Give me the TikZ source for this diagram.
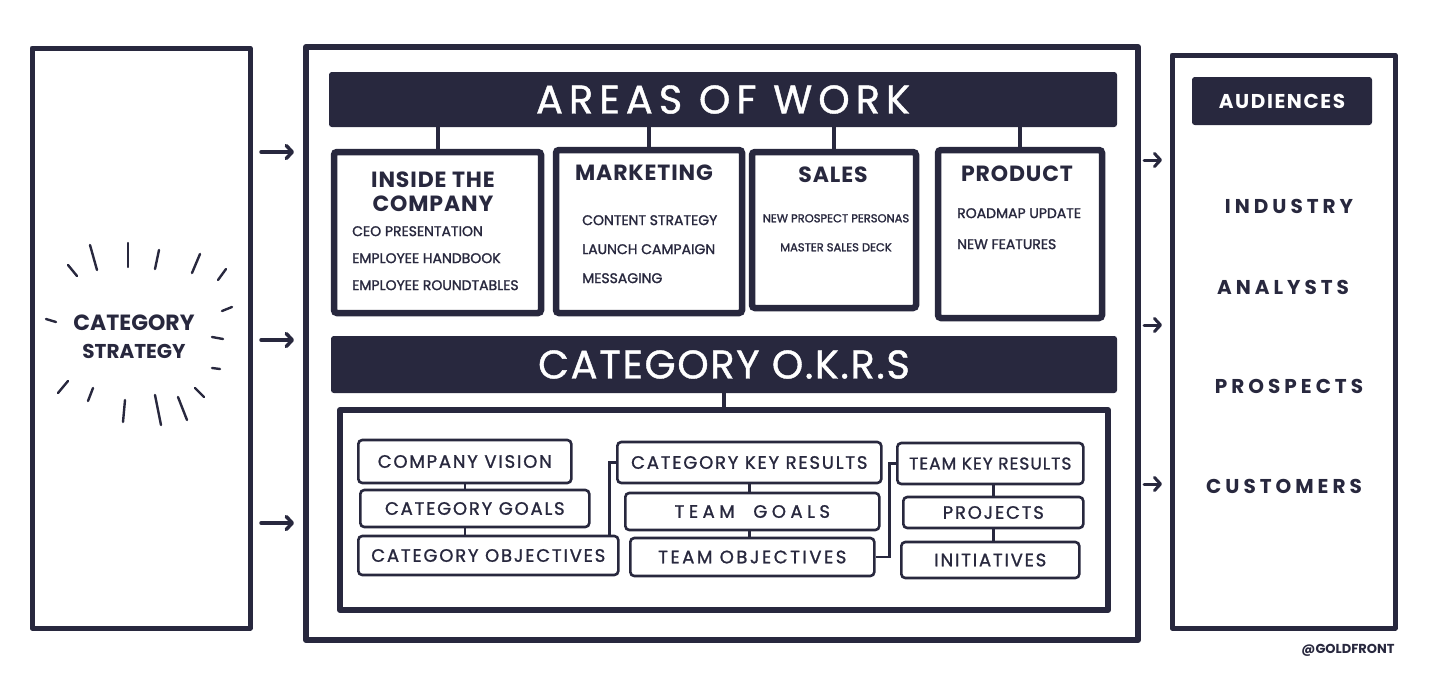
\documentclass[tikz,border=0pt]{standalone}
\usepackage{fontspec}
\setmainfont{Poppins}
\usetikzlibrary{positioning,arrows.meta}
\definecolor{ink}{RGB}{40,40,62}

\begin{document}
\begin{tikzpicture}[x=1pt, y=-1pt,
  every node/.style={text=ink, inner sep=0pt},
  panel/.style={draw=ink, line width=5pt, line join=round},
  banner/.style={fill=ink, draw=ink, line width=2pt, rounded corners=2pt, text=white},
  area/.style={draw=ink, line width=6.5pt, rounded corners=3pt},
  okrbox/.style={draw=ink, line width=2.6pt, rounded corners=4pt, anchor=west,
    font=\fontsize{18}{18}\selectfont\addfontfeature{LetterSpace=10,FakeBold=1.2}},
  link/.style={draw=ink, line width=2.6pt},
  ray/.style={draw=ink, line width=2.4pt, line cap=round},
  flow/.style={draw=ink, line width=3.5pt, line cap=round,
    -{Straight Barb[length=6pt, width=13pt, line cap=round, line join=round]}},
  bigtitle/.style={font=\fontsize{40}{40}\selectfont\addfontfeature{LetterSpace=15,FakeBold=1}},
  title/.style={font=\bfseries\fontsize{22}{24}\selectfont\addfontfeature{LetterSpace=4}, align=center},
  items/.style={font=\fontsize{14}{27}\selectfont\addfontfeature{FakeBold=1.5}, align=left, anchor=north west},
  audience/.style={font=\bfseries\fontsize{20}{20}\selectfont\addfontfeature{LetterSpace=20}}
]
\useasboundingbox[fill=white] (0,0) rectangle (1430,678);

% --- left panel: category strategy ---
\node[panel, minimum width=218, minimum height=580] (strategy) at (141,338) {};
\node[font=\bfseries\fontsize{22}{30}\selectfont, align=center] (strattxt) at (134,337)
  {CATEGORY\\[-2pt]{\fontsize{20}{20}\selectfont STRATEGY}};
\foreach \xa/\ya/\xb/\yb in {68/265/77/276, 90/245/97/270, 128/243/128/267, 159/250/155/269,
                   200/254/192/273, 226/269/218/280, 222/311/232/307, 212/337/223/339,
                   212/368/220/369, 195/388/204/397, 178/397/187/420, 155/395/161/425,
                   125/400/123/422, 93/388/88/401, 68/381/58/393, 46/319/56/322}
  \draw[ray] (\xa,\ya) -- (\xb,\yb);

\foreach \y in {152,340,523}
  \draw[flow] (261,\y) -- (294,\y);

% --- main frame ---
\node[panel, line width=6pt, minimum width=832, minimum height=593] (main) at (722,343.5) {};

% --- areas of work ---
\node[banner, minimum width=786, minimum height=53, bigtitle] (aow) at (723,99.5) {AREAS OF WORK};

\node[area, minimum width=207, minimum height=161] (inside) at (437.5,232.5) {};
\node[area, minimum width=186, minimum height=163] (mkt)    at (649,231.5)   {};
\node[area, minimum width=164, minimum height=156] (sales)  at (834,230)     {};
\node[area, minimum width=164, minimum height=168] (prod)   at (1020,234)    {};

\foreach \ar in {inside,mkt,sales,prod}
  \draw[link, line width=4pt] (\ar.north |- aow.south) -- (\ar.north);

\node[title] (insttl) at (433,192) {INSIDE THE\\COMPANY};
\node[items] (insitems) at (352,226)
  {CEO PRESENTATION\\EMPLOYEE HANDBOOK\\EMPLOYEE ROUNDTABLES};

\node[title] (mktttl) at (644,173) {MARKETING};
\node[items, font=\fontsize{14}{29}\selectfont\addfontfeature{FakeBold=1.5}] (mktitems) at (582,215)
  {CONTENT STRATEGY\\LAUNCH CAMPAIGN\\MESSAGING};

\node[title] (salesttl) at (833,175) {SALES};
\node[items, anchor=north, align=center, font=\fontsize{11.5}{29}\selectfont\addfontfeature{FakeBold=1.5}] (salesitems) at (836,214)
  {NEW PROSPECT PERSONAS\\MASTER SALES DECK};

\node[title] (prodttl) at (1017,174) {PRODUCT};
\node[items, font=\fontsize{14}{31}\selectfont\addfontfeature{FakeBold=1.5}] (proditems) at (957,208)
  {ROADMAP UPDATE\\NEW FEATURES};

% --- category okrs ---
\node[banner, minimum width=784, minimum height=55, bigtitle,
  font=\fontsize{40}{40}\selectfont\addfontfeature{LetterSpace=4,FakeBold=1}] (okrs) at (724,364.5) {CATEGORY O.K.R.S};
\node[panel, line width=6pt, minimum width=768, minimum height=200] (okrframe) at (724,510) {};
\draw[link, line width=4pt] (okrs.south) -- (okrframe.north);

\node[okrbox, minimum width=213, minimum height=43] (vision) at (357,461.5) {COMPANY VISION};
\node[okrbox, minimum width=229, minimum height=37] (cgoals) at (359,508.5) {CATEGORY GOALS};
\node[okrbox, minimum width=260, minimum height=39] (cobj)   at (357,555.5) {CATEGORY OBJECTIVES};

\node[okrbox, minimum width=264, minimum height=41] (ckr)    at (616,462.5) {CATEGORY KEY RESULTS};
\node[okrbox, minimum width=254, minimum height=37,
  font=\fontsize{18}{18}\selectfont\addfontfeature{LetterSpace=25,FakeBold=1.2}] (tgoals) at (624,511.5) {TEAM \ GOALS};
\node[okrbox, minimum width=244, minimum height=38,
  font=\fontsize{18}{18}\selectfont\addfontfeature{LetterSpace=14,FakeBold=1.2}] (tobj)   at (629,557)   {TEAM OBJECTIVES};

\node[okrbox, minimum width=186, minimum height=41,
  font=\fontsize{17}{17}\selectfont\addfontfeature{LetterSpace=6,FakeBold=1.2}] (tkr) at (896,463.5) {TEAM KEY RESULTS};
\node[okrbox, minimum width=180, minimum height=31] (proj)   at (902,512.5) {PROJECTS};
\node[okrbox, minimum width=178, minimum height=36] (init)   at (900,560)   {INITIATIVES};

\draw[link] (vision.south) -- (vision.south |- cgoals.north);
\draw[link] (vision.south |- cgoals.south) -- (vision.south |- cobj.north);
\draw[link] (ckr.south) -- (ckr.south |- tgoals.north);
\draw[link] (ckr.south |- tgoals.south) -- (ckr.south |- tobj.north);
\draw[link] (proj.north) -- (proj.north |- tkr.south);
\draw[link] (proj.south) -- (proj.south |- init.north);
\draw[link] ([xshift=-10pt]cobj.north east) |- (ckr.west);
\draw[link] (tobj.east) -- ++(14,0) |- (tkr.west);

\foreach \y in {160,325,484}
  \draw[flow, line width=3pt] (1144,\y) -- (1162,\y);

% --- right panel: audiences ---
\node[panel, minimum width=223, minimum height=573] (aud) at (1283.5,341.5) {};
\node[banner, minimum width=178, minimum height=46,
  font=\bfseries\fontsize{20}{20}\selectfont\addfontfeature{LetterSpace=8}] (audttl) at (1282,101) {AUDIENCES};
\node[audience] (industry)  at (1289,206) {INDUSTRY};
\node[audience] (analysts)  at (1283,287) {ANALYSTS};
\node[audience] (prospects) at (1289,386) {PROSPECTS};
\node[audience] (customers) at (1284,486) {CUSTOMERS};

\node[font=\bfseries\fontsize{13}{13}\selectfont] (credit) at (1348,650) {@GOLDFRONT};
\end{tikzpicture}
\end{document}
